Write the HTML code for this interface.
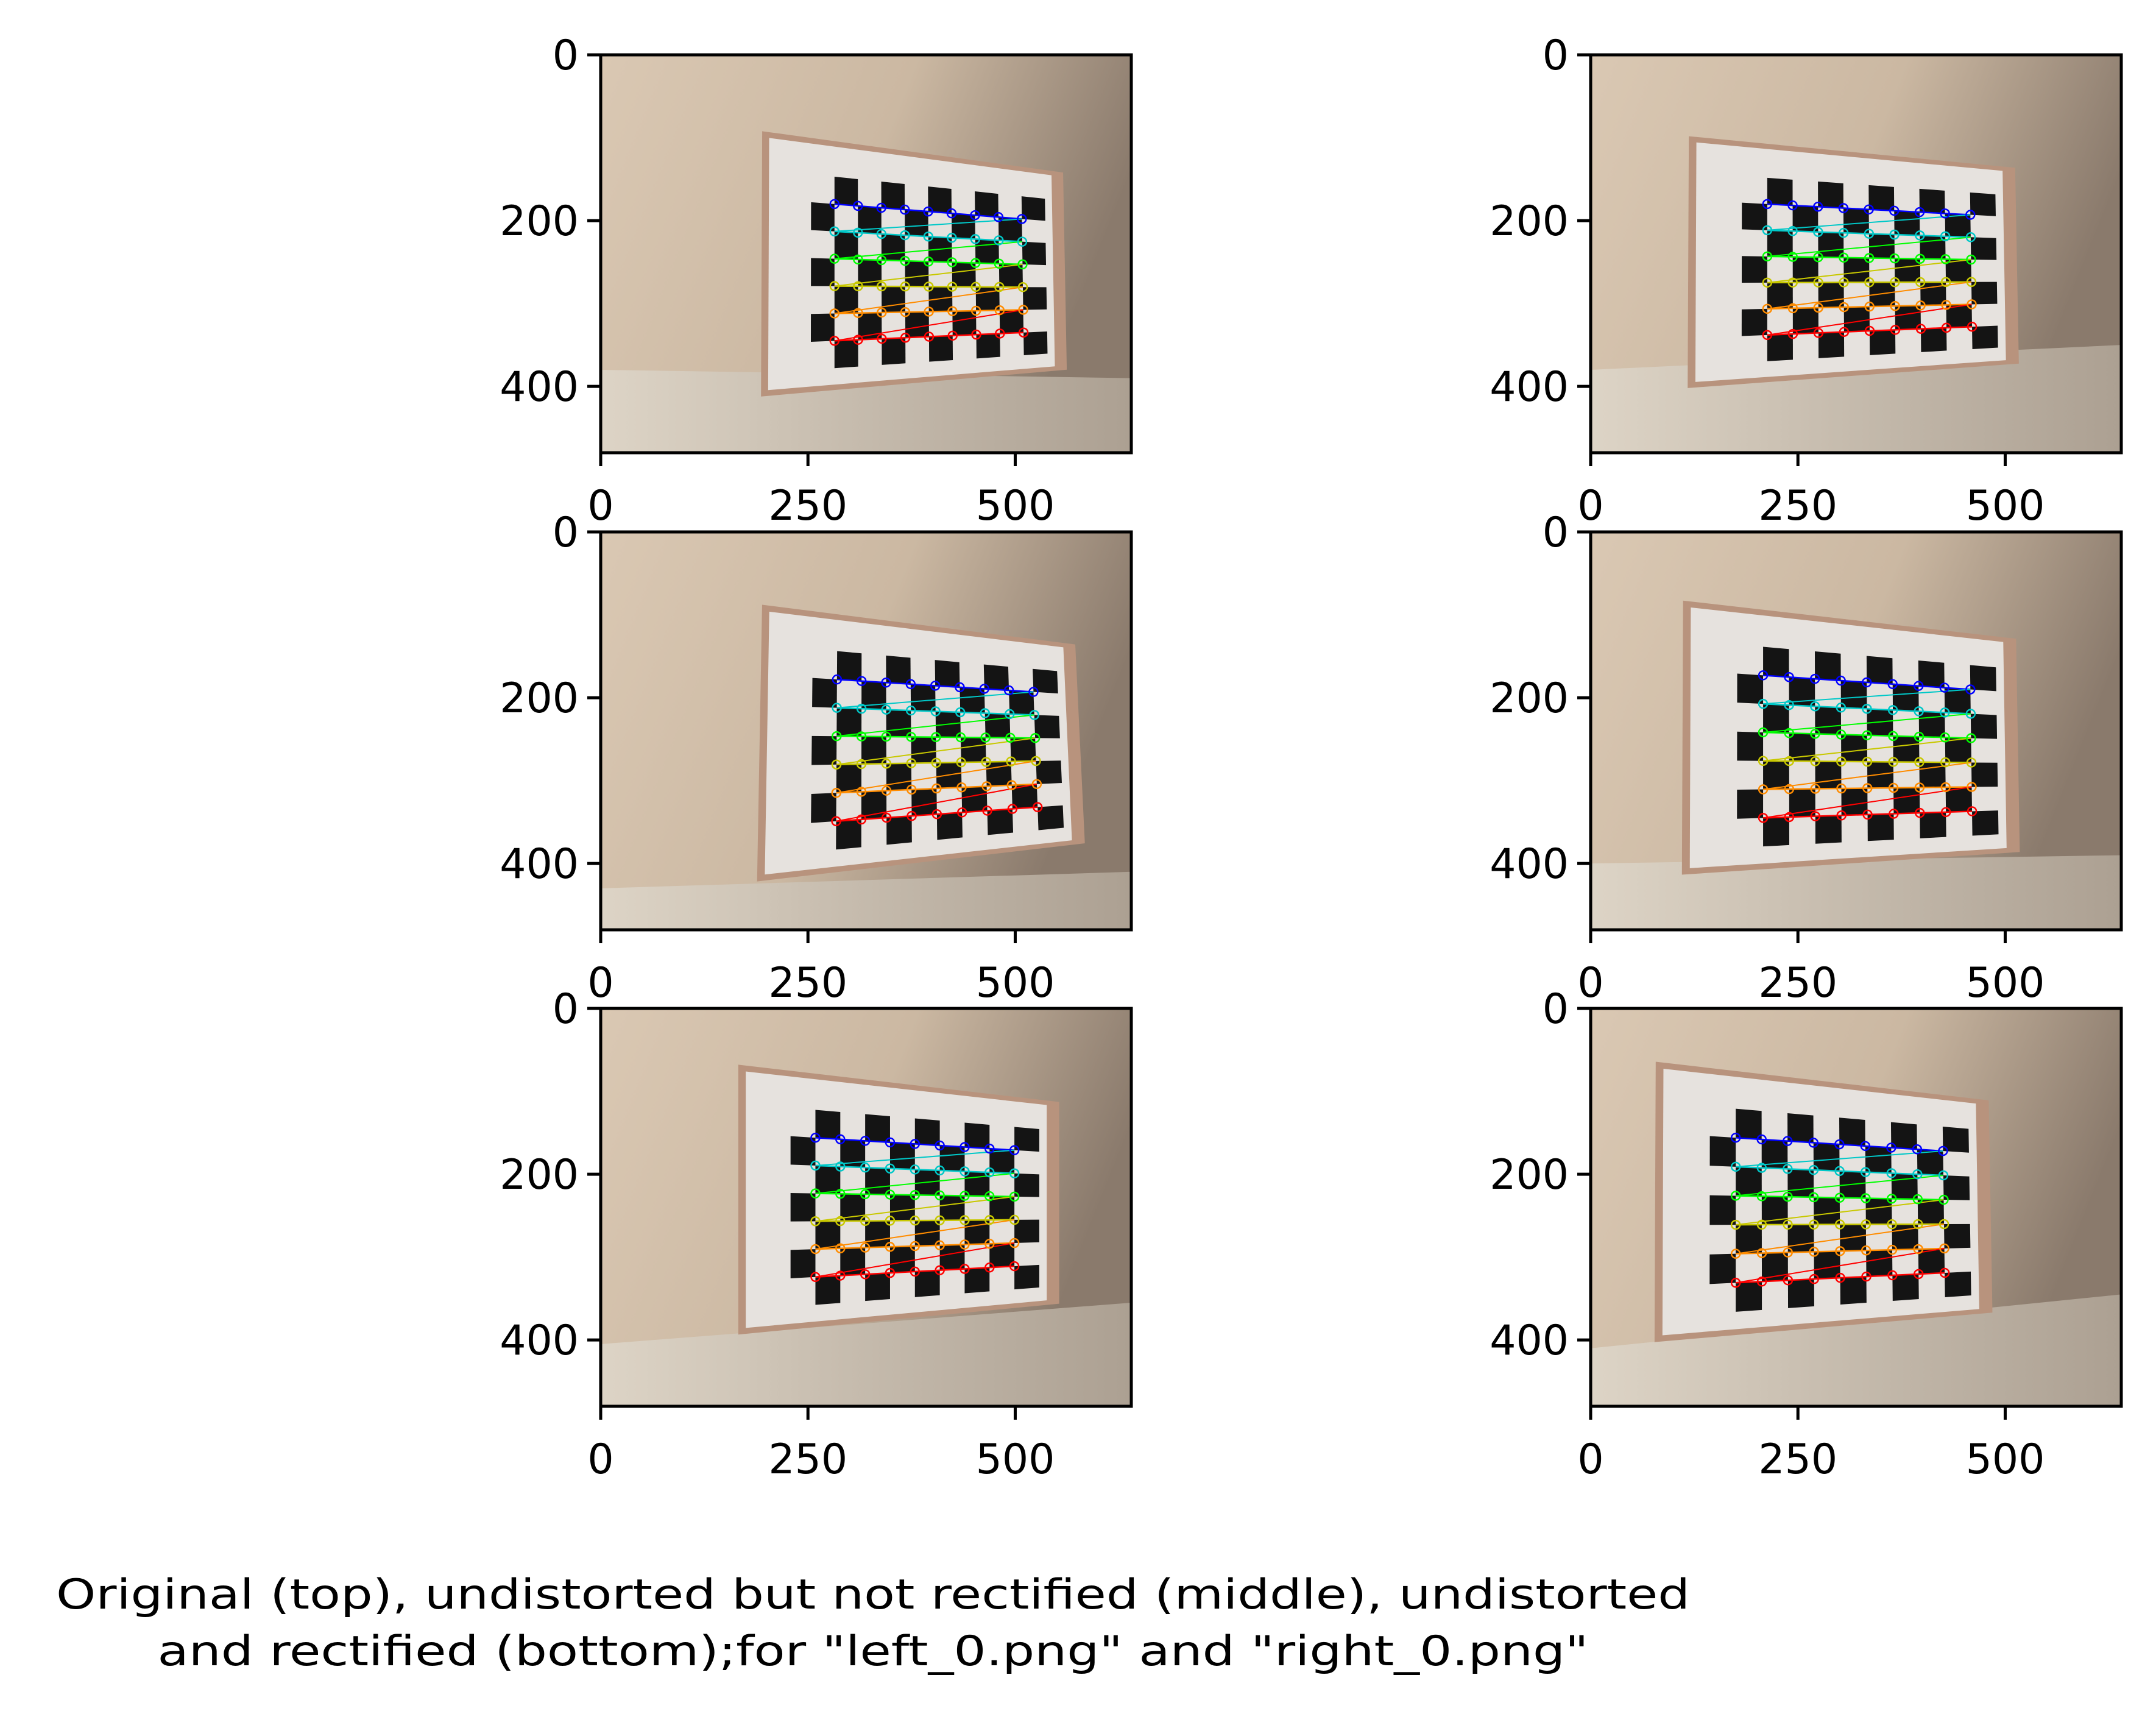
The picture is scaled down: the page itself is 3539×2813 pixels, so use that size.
<!DOCTYPE html>
<html><head><meta charset="utf-8"><style>
html,body{margin:0;padding:0;background:#fff;}
svg{display:block;}
text{font-family:"DejaVu Sans","Liberation Sans",sans-serif;fill:#000;}
</style></head><body>
<svg id="fig" width="3539" height="2813" viewBox="0 0 3539 2813" xmlns="http://www.w3.org/2000/svg">
<defs>
<linearGradient id="wallL" x1="0" y1="0" x2="1" y2="0.3"><stop offset="0" stop-color="#dac8b3"/><stop offset="0.55" stop-color="#cbb8a2"/><stop offset="1" stop-color="#8a7a6c"/></linearGradient>
<linearGradient id="floorL" x1="0" y1="0" x2="1" y2="0"><stop offset="0" stop-color="#ddd4c6"/><stop offset="1" stop-color="#aca092"/></linearGradient>
</defs>
<text x="1433" y="2640" font-size="68" text-anchor="middle" textLength="2682" lengthAdjust="spacingAndGlyphs">Original (top), undistorted but not rectified (middle), undistorted</text>
<text x="1433" y="2733" font-size="68" text-anchor="middle" textLength="2349" lengthAdjust="spacingAndGlyphs">and rectified (bottom);for "left_0.png" and "right_0.png"</text>
</svg>
<script>
// chessboard inner-corner quads per panel (data coords of 640x480 image): TL, TR, BL, BR
const panelNames = ['left-original','right-original','left-undistorted','right-undistorted','left-rectified','right-rectified'];
const cornerTL = [[282,180],[213,180],[285,178],[208,173],[259,156],[175,156]];
const cornerTR = [[508,198],[458,193],[522,193],[458,190],[499,171],[425,172]];
const cornerBL = [[282,345],[213,338],[284,349],[208,345],[259,324],[175,331]];
const cornerBR = [[510,335],[460,328],[527,332],[460,337],[499,311],[427,319]];
const floorLeftY = [380,380,430,400,405,410];
const floorRightY = [390,350,410,390,355,345];
const xTicks = [0,250,500];
const yTicks = [0,200,400];
const rowColors = ['#0000ff','#00c8c8','#00ff00','#c8c800','#ff8c00','#ff0000'];

const NS='http://www.w3.org/2000/svg';
const fig=document.getElementById('fig');
const axX=[986,2611], axY=[90,873,1655], axW=871, axH=653;
function mk(tag,attrs,parent){const e=document.createElementNS(NS,tag);for(const k in attrs)e.setAttribute(k,attrs[k]);parent.appendChild(e);return e;}

for(let p=0;p<6;p++){
  const ox=axX[p%2], oy=axY[Math.floor(p/2)];
  const sx=v=>ox+v*axW/640, sy=v=>oy+v*axH/480;
  const g=mk('g',{},fig);
  
  
  const wall=mk('rect',{x:ox,y:oy,width:axW,height:axH,fill:'url(#wallL)'},g);
  
  
  const fl=mk('polygon',{points:`${sx(0)},${sy(floorLeftY[p])} ${sx(640)},${sy(floorRightY[p])} ${sx(640)},${sy(480)} ${sx(0)},${sy(480)}`,fill:'url(#floorL)'},g);
  
  
  const TL=cornerTL[p],TR=cornerTR[p],BL=cornerBL[p],BR=cornerBR[p];
  const M=(i,j)=>{const u=i/8,v=j/5;
    const x=(1-u)*(1-v)*TL[0]+u*(1-v)*TR[0]+(1-u)*v*BL[0]+u*v*BR[0];
    const y=(1-u)*(1-v)*TL[1]+u*(1-v)*TR[1]+(1-u)*v*BL[1]+u*v*BR[1];
    return [sx(x),sy(y)];};
  const quad=(i0,j0,i1,j1)=>[M(i0,j0),M(i1,j0),M(i1,j1),M(i0,j1)].map(q=>q.join(',')).join(' ');
  const cb=mk('polygon',{points:quad(-3.1,-2.3,9.8,6.8),fill:'#b8937d'},g);
  
  
  const paper=mk('polygon',{points:quad(-2.8,-2.1,9.3,6.6),fill:'#e6e2de'},g);
  
  
  for(let i=-1;i<=8;i++)for(let j=-1;j<=5;j++){
    if(((i+j)%2+2)%2===1){
      const s=mk('polygon',{points:quad(i,j,i+1,j+1),fill:'#141414'},g);
      
      
    }
  }
  for(let j=0;j<6;j++){
    let pts=[];for(let i=0;i<9;i++)pts.push(M(i,j).join(','));
    const pl=mk('polyline',{points:pts.join(' '),fill:'none',stroke:rowColors[j],'stroke-width':2.5},g);
    
    
    if(j<5){const a=M(8,j),b=M(0,j+1);
      const z=mk('line',{x1:a[0],y1:a[1],x2:b[0],y2:b[1],stroke:rowColors[j+1],'stroke-width':2},g);
      
      }
    for(let i=0;i<9;i++){const c=M(i,j);
      const ci=mk('circle',{cx:c[0],cy:c[1],r:7,fill:'none',stroke:rowColors[j],'stroke-width':2.5},g);
      
      }
  }
  const fr=mk('rect',{x:ox,y:oy,width:axW,height:axH,fill:'none',stroke:'#000','stroke-width':5},g);
  
  
  yTicks.forEach(t=>{
    const y=sy(t);
    const tk=mk('line',{x1:ox-22,y1:y,x2:ox,y2:y,stroke:'#000','stroke-width':5},g);
    
    
    const tx=mk('text',{x:ox-36,y:y+24,'font-size':68,'text-anchor':'end'},g);
    tx.textContent=t;
    
    
  });
  xTicks.forEach(t=>{
    const x=sx(t), y=oy+axH;
    const tk=mk('line',{x1:x,y1:y,x2:x,y2:y+22,stroke:'#000','stroke-width':5},g);
    
    
    const tx=mk('text',{x:x,y:y+110,'font-size':68,'text-anchor':'middle'},g);
    tx.textContent=t;
    
    
  });
}
</script>
</body></html>
